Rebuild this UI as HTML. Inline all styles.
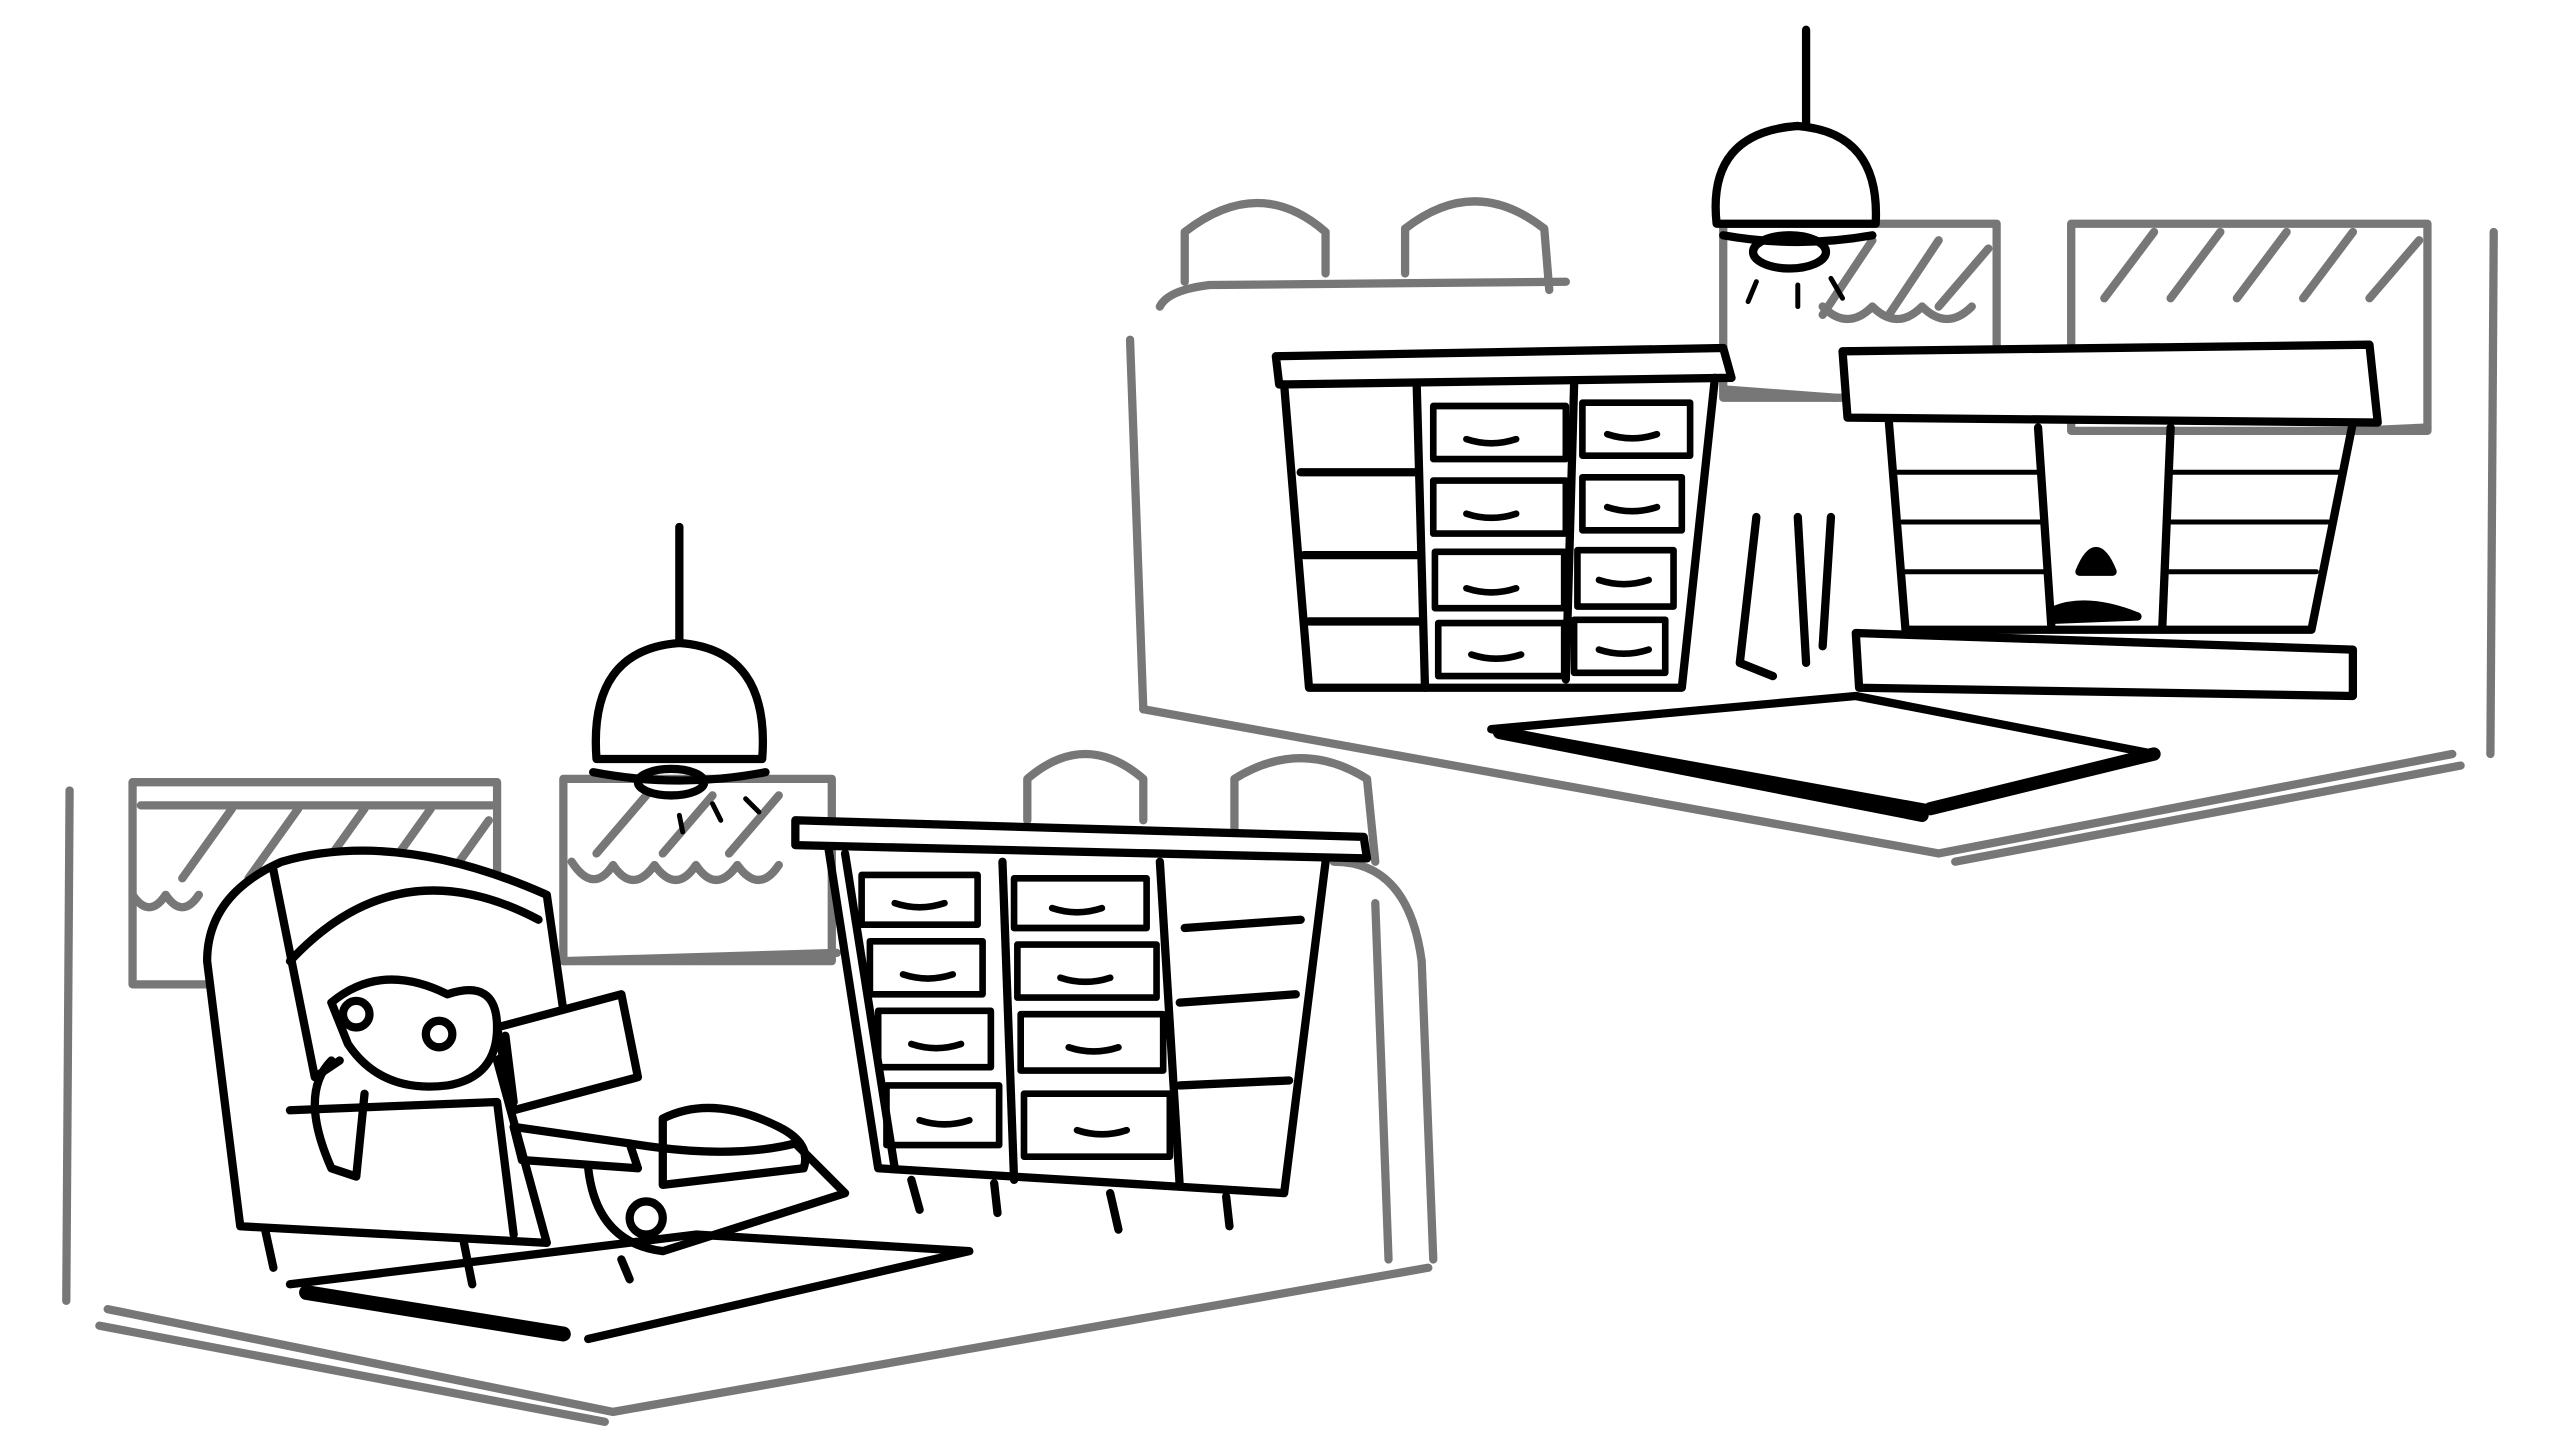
<!DOCTYPE html>
<html><head><meta charset="utf-8"><style>html,body{margin:0;padding:0;background:#fff}svg{display:block}</style></head>
<body>
<svg width="2560" height="1450" viewBox="0 0 1545 875" preserveAspectRatio="none" xmlns="http://www.w3.org/2000/svg" fill="none" stroke-linecap="round" stroke-linejoin="round">
<rect width="1545" height="875" fill="#fff" stroke="none"/>
<!-- LEFT SCENE gray -->
<g stroke="#777" stroke-width="5">
<path d="M42 477 L40 785"/>
<path d="M65 790 L370 852 L862 765"/>
<path d="M60 800 L365 858"/>
<rect x="80" y="472" width="220" height="122"/>
<path d="M80 540 Q90 555 100 540 Q110 555 120 540 M85 486 L297 486"/>
<path d="M110 530 L140 488 M150 530 L180 488 M190 530 L220 488 M230 530 L260 488 M270 530 L295 495"/>
<rect x="340" y="470" width="162" height="110"/>
<path d="M345 520 Q358 540 370 522 Q382 540 395 522 Q408 540 420 522 Q432 540 445 522 Q458 540 470 522"/>
<path d="M360 515 L390 480 M400 515 L430 480 M440 515 L470 480"/>
<path d="M340 580 L505 575"/>
<path d="M620 495 L620 470 Q655 440 690 470 L690 495"/>
<path d="M745 500 L745 470 Q785 445 825 470 L830 520"/>
<path d="M805 520 Q850 520 858 580 L865 760"/>
<path d="M830 545 L838 760"/>
</g>
<!-- lamp left -->
<g stroke="#000" stroke-width="5">
<path d="M410 318 L410 392"/>
<path d="M360 458 Q355 392 410 388 Q465 392 460 458 Z" fill="#fff"/>
<path d="M358 466 Q410 476 462 466"/>
<ellipse cx="405" cy="472" rx="20" ry="8"/>
<path d="M430 485 L435 495 M450 482 L458 490 M410 492 L412 502" stroke-width="3"/>
</g>
<!-- dresser left -->
<g stroke="#000" stroke-width="5">
<path d="M480 495 L823 505 L825 518 L480 510 Z" fill="#fff"/>
<path d="M500 512 L530 705 L775 720 L800 520"/>
<path d="M510 515 L540 705 M605 520 L612 712 M700 520 L712 716 M715 560 L785 555 M712 605 L782 600 M712 655 L778 652"/>
<g stroke-width="4">
<rect x="520" y="528" width="70" height="30"/><rect x="612" y="530" width="80" height="30"/>
<rect x="525" y="568" width="68" height="32"/><rect x="614" y="570" width="84" height="32"/>
<rect x="530" y="610" width="68" height="34"/><rect x="616" y="612" width="86" height="34"/>
<rect x="535" y="655" width="68" height="36"/><rect x="618" y="660" width="88" height="38"/>
<path d="M540 545 Q555 550 570 545 M635 548 Q650 553 665 548 M545 588 Q560 593 575 588 M640 590 Q655 595 670 590 M550 630 Q565 635 580 630 M645 632 Q660 637 675 632 M555 676 Q570 681 585 676 M650 682 Q665 687 680 682"/>
</g>
<path d="M550 712 L555 730 M600 714 L602 732 M670 720 L675 742 M740 722 L742 740"/>
</g>
<!-- rug left -->
<g stroke="#000" stroke-width="5">
<path d="M175 775 L420 745 L585 755 L355 808"/>
<path d="M185 780 L340 805" stroke-width="9"/>
</g>
<!-- armchair -->
<g stroke="#000" stroke-width="5">
<path d="M170 520 Q240 500 330 540 L340 610 L300 640 L330 750 L145 740 L125 580 Q125 540 170 520 Z" fill="#fff"/>
<path d="M165 525 L190 650 L205 640"/>
<path d="M175 580 Q240 510 325 555"/>
<path d="M175 670 L300 665 L310 745"/>
<path d="M160 742 L165 765 M280 750 L285 775"/>
<path d="M200 605 Q230 580 270 600 Q300 590 300 620 Q300 650 270 655 Q230 660 210 630 Z" fill="#fff"/>
<circle cx="215" cy="612" r="8"/><circle cx="265" cy="624" r="8"/>
<path d="M200 640 Q180 660 200 705 L215 710 L220 660"/>
<path d="M300 620 L375 600 L385 650 L310 670 Z" fill="#fff"/>
<path d="M305 625 L310 665"/>
<path d="M310 680 L380 690 L385 705 L315 700 Z"/>
<path d="M355 705 Q360 750 400 755 L510 720 L480 690 Q440 700 380 690"/>
<path d="M400 675 Q430 660 470 680 Q490 690 485 705 L400 715 Z"/>
<circle cx="390" cy="735" r="10"/>
<path d="M375 760 L380 772"/>
</g>
<!-- RIGHT SCENE gray -->
<g stroke="#777" stroke-width="5">
<path d="M682 205 L690 428"/>
<path d="M700 185 Q705 175 730 172 L945 170"/>
<path d="M715 170 L715 140 Q760 105 800 140 L800 165"/>
<path d="M848 165 L848 138 Q890 105 932 138 L935 175"/>
<path d="M690 428 L1170 515 L1480 455"/>
<path d="M1180 520 L1485 462"/>
<path d="M1505 140 L1503 455"/>
<rect x="1040" y="135" width="165" height="105"/>
<path d="M1040 235 L1108 240"/>
<path d="M1100 190 L1130 145 M1140 190 L1170 145 M1170 185 L1200 150"/>
<path d="M1100 185 Q1115 200 1130 185 Q1145 200 1160 185 Q1175 200 1190 185"/>
<rect x="1250" y="135" width="215" height="125"/>
<path d="M1270 180 L1300 140 M1310 180 L1340 140 M1350 180 L1380 140 M1390 180 L1420 140 M1430 180 L1460 145"/>
<path d="M1420 260 L1465 258"/>
</g>
<!-- lamp right -->
<g stroke="#000" stroke-width="5">
<path d="M1090 18 L1090 78"/>
<path d="M1036 135 Q1030 80 1085 76 Q1135 80 1132 135 Z" fill="#fff"/>
<path d="M1040 142 Q1085 150 1130 142"/>
<ellipse cx="1080" cy="152" rx="22" ry="10"/>
<path d="M1060 170 L1055 182 M1085 172 L1085 185 M1105 168 L1112 180" stroke-width="3"/>
</g>
<!-- dresser right -->
<g stroke="#000" stroke-width="5">
<path d="M770 215 L1040 210 L1045 228 L772 232 Z" fill="#fff"/>
<path d="M775 232 L790 415 L1015 415 L1035 228"/>
<path d="M785 285 L855 285 M787 335 L855 335 M790 375 L857 375 M855 232 L860 415 M950 232 L945 410"/>
<g stroke-width="4">
<rect x="865" y="245" width="80" height="32"/><rect x="955" y="243" width="65" height="32"/>
<rect x="865" y="290" width="80" height="32"/><rect x="955" y="288" width="60" height="32"/>
<rect x="866" y="333" width="78" height="34"/><rect x="952" y="332" width="58" height="34"/>
<rect x="868" y="376" width="76" height="32"/><rect x="950" y="374" width="55" height="32"/>
<path d="M885 265 Q900 270 915 265 M970 262 Q985 267 1000 262 M885 310 Q900 315 915 310 M970 306 Q985 311 1000 306 M885 355 Q900 360 915 355 M965 350 Q980 355 995 350 M888 395 Q903 400 918 395 M965 392 Q980 397 995 392"/>
</g>
</g>
<!-- fireplace -->
<g stroke="#000" stroke-width="5">
<path d="M1112 212 L1430 208 L1435 255 L1115 252 Z" fill="#fff"/>
<path d="M1140 255 L1150 380 L1395 380 L1420 255"/>
<path d="M1230 258 L1238 378 M1310 258 L1305 378"/>
<path d="M1145 285 L1230 285 M1148 315 L1232 315 M1150 345 L1234 345 M1310 285 L1412 285 M1308 315 L1405 315 M1306 345 L1398 345" stroke-width="3"/>
<path d="M1120 382 L1420 392 L1420 420 L1122 415 Z" fill="#fff"/>
<path d="M1240 368 Q1260 360 1290 372 L1240 374 Z M1255 345 Q1265 320 1275 345 Z" fill="#000"/>
<path d="M1060 312 L1050 400 L1070 408 M1085 312 L1090 400 M1105 312 L1100 390"/>
<path d="M900 440 L1165 488 L1300 455 L1120 420 Z" fill="#fff"/>
<path d="M905 442 L1160 492" stroke-width="8"/>
<path d="M1165 488 L1300 455" stroke-width="8"/>
</g>
</svg>
</body></html>
